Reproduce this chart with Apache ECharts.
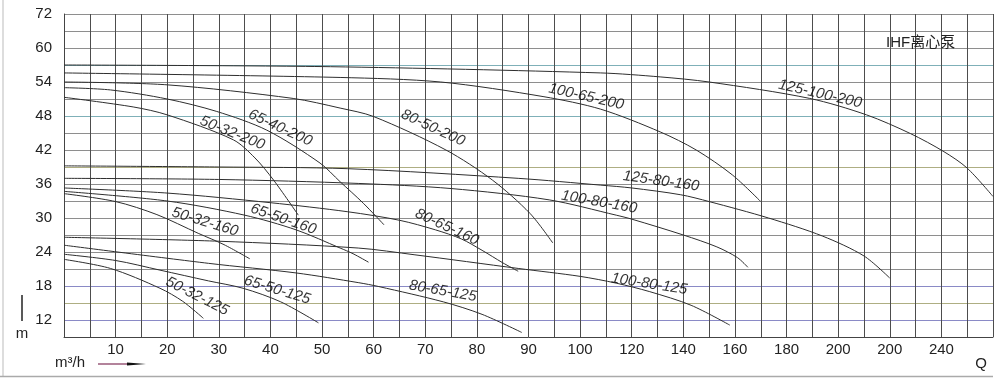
<!DOCTYPE html>
<html>
<head>
<meta charset="utf-8">
<script src="https://cdn.jsdelivr.net/npm/echarts@6/dist/echarts.min.js"></script>
<style>
html, body {margin:0; padding:0; background:#fff;}
#chart {width:1000px; height:378px;}
</style>
</head>
<body>
<div id="chart"></div>
<script>
// x 轴刻度文字（100 以后每格 20）
var xTickLabels = ['10','20','30','40','50','60','70','80','90','100','120','140','160','180','200','200','240'];
var yTickValues = [12, 18, 24, 30, 36, 42, 48, 54, 60, 66];
var yTickLabels = ['12','18','24','30','36','42','48','54','60','72'];

// 各泵型 Q-H 曲线 [Q(m3/h), H(m)]
var q50_32_125  = [[0,22.7],[9,21.1],[18.6,17.6],[23,15.3],[27,12.3]];
var q65_50_125  = [[0,23.6],[10,22.5],[18.6,20.8],[28,18.9],[34.7,17.6],[42,15.2],[49.3,11.5]];
var q80_65_125  = [[0,25.2],[28,22.0],[45,20.3],[57,18.6],[61,17.9],[73.5,15.2],[81,13.0],[88.7,9.8]];
var q100_80_125 = [[0,26.6],[30,25.9],[57,24.7],[68,23.5],[88,21.1],[100,19.7],[114,18.5],[127,17.0],[143,14.6],[158,11.1]];
var q50_32_160  = [[0,34.3],[10,32.9],[18,30.6],[26,27.3],[31,25.3],[36,22.8]];
var q65_50_160  = [[0,34.7],[20,33.0],[35,30.5],[45,27.9],[53.5,24.7],[56,23.7],[59,22.2]];
var q80_65_160  = [[0,35.3],[20,34.4],[40,32.7],[55,31.1],[65,29.6],[72,27.9],[77,26.3],[81,24.3],[85,22.1],[88,20.6]];
var q100_80_160 = [[0,37.0],[30,36.8],[57,36.1],[75,35.2],[94,33.2],[114,30.5],[120,29.8],[140,27.0],[153,24.9],[161,23.0],[165,21.3]];
var q125_80_160 = [[0,39.2],[30,39.0],[55,38.7],[88,37.0],[108,35.8],[120,35.3],[139,34.1],[150,32.9],[173,30.0],[194,26.8],[210,23.3],[220,19.4]];
var q50_32_200  = [[0,51.3],[13.4,49.6],[20,48.2],[32.8,43.8],[37,40.6],[40.6,36.7],[45.4,30.5]];
var q65_40_200  = [[0,53.0],[9,52.6],[20,51.0],[29.6,48.8],[39.3,45.5],[49.6,39.7],[53.5,36.4],[58,32.6],[62,28.8]];
var q80_50_200  = [[0,54.0],[20,53.5],[44.4,51.1],[53.5,49.4],[60,47.9],[74,42.0],[83,36.7],[90.3,30.8],[94.7,25.6]];
var q100_65_200 = [[0,55.6],[53.5,54.8],[73,54.0],[93,51.4],[108,49.2],[131,45.2],[145,42.0],[159,37.6],[170,32.9]];
var q125_100_200 = [[0,57.0],[51.6,56.7],[108,55.6],[131,54.9],[150,54.0],[189,51.1],[211,48.2],[228,44.9],[241,41.7],[250,38.8],[260,33.8]];

var curves = [q50_32_125, q65_50_125, q80_65_125, q100_80_125,
              q50_32_160, q65_50_160, q80_65_160, q100_80_160, q125_80_160,
              q50_32_200, q65_40_200, q80_50_200, q100_65_200, q125_100_200];

// 曲线标注 [文字, Q, H, 角度]
var curveLabels = [
    ['50-32-200', 32.6, 45.0, -22],
    ['65-40-200', 41.9, 45.9, -25],
    ['80-50-200', 71.5, 45.9, -25],
    ['100-65-200', 102.4, 51.4, -13],
    ['125-100-200', 193, 51.9, -13],
    ['125-80-160', 131.4, 36.5, -8],
    ['100-80-160', 107.4, 32.8, -10],
    ['80-65-160', 74.2, 28.4, -25],
    ['65-50-160', 42.5, 29.8, -19],
    ['50-32-160', 27.3, 29.3, -17],
    ['50-32-125', 25.8, 16.2, -27],
    ['65-50-125', 41.3, 17.3, -17],
    ['80-65-125', 73.4, 17.1, -10],
    ['100-80-125', 126.8, 18.35, -9]
];

// 横坐标 100 以后比例减半
function qToX(q) {
    return q <= 100 ? q : 100 + (q - 100) / 2;
}

var series = [];
for (var i = 0; i < curves.length; i++) {
    series.push({
        type: 'line', smooth: 0.3, symbol: 'none', silent: true,
        lineStyle: {color: '#2e2e2e', width: 1},
        data: curves[i].map(function(p){ return [qToX(p[0]), p[1]]; })
    });
}
series.push({
    type: 'scatter', symbolSize: 0, silent: true, z: 5,
    data: curveLabels.map(function(l){
        return {name: l[0], value: [qToX(l[1]), l[2]],
                label: {rotate: l[3]}};
    }),
    label: {show: true, position: 'inside', formatter: '{b}',
            fontFamily: 'Liberation Sans', fontStyle: 'italic', fontSize: 15, color: '#000'}
});

var hColors = [];
for (var k = 0; k < 20; k++) hColors.push('#8e8e8e');
hColors[1] = '#8a8ac6'; hColors[3] = '#8a8ac6';
hColors[13] = '#7fb0b8'; hColors[16] = '#7fb0b8';
hColors[10] = '#aeae82'; hColors[2] = '#aeae82';

var option = {
    animation: false,
    grid: {left: 64, right: 7, top: 14, bottom: 41},
    title: {text: 'IHF离心泵', left: 881, top: 30,
            textStyle: {fontSize: 15, fontWeight: 'normal', color: '#222',
                        fontFamily: 'Liberation Sans, Noto Sans CJK SC'}},
    xAxis: {
        type: 'value', min: 0, max: 180, interval: 5,
        axisLine: {show: true, lineStyle: {color: '#444'}},
        axisTick: {show: false},
        splitLine: {show: true, lineStyle: {color: '#4d4d4d', width: 1}},
        axisLabel: {margin: 5, fontSize: 15, color: '#222', fontFamily: 'Liberation Sans',
                    formatter: function(v){
                        if (v % 10 != 0 || v < 10 || v > 170) return '';
                        return xTickLabels[v / 10 - 1];
                    }}
    },
    yAxis: {
        type: 'value', min: 9, max: 66, interval: 3,
        axisLine: {show: true, lineStyle: {color: '#444'}},
        axisTick: {show: false},
        splitLine: {show: true, lineStyle: {color: hColors, width: 1}},
        axisLabel: {margin: 12, fontSize: 15, color: '#222', fontFamily: 'Liberation Sans',
                    formatter: function(v){
                        var idx = yTickValues.indexOf(v);
                        return idx < 0 ? '' : yTickLabels[idx];
                    }}
    },
    graphic: [
        {type: 'line', shape: {x1: 3, y1: 0, x2: 3, y2: 377}, style: {stroke: '#bbb', lineWidth: 1}},
        {type: 'line', shape: {x1: 0, y1: 376.5, x2: 993, y2: 376.5}, style: {stroke: '#aaa', lineWidth: 1.5}},
        {type: 'line', shape: {x1: 22, y1: 295, x2: 22, y2: 321}, style: {stroke: '#222', lineWidth: 1.5}},
        {type: 'text', x: 22, y: 334, style: {text: 'm', fontSize: 15, fill: '#222', fontFamily: 'Liberation Sans',
                                              align: 'center', verticalAlign: 'middle'}},
        {type: 'text', x: 55, y: 363, style: {text: 'm³/h', fontSize: 15, fill: '#222', fontFamily: 'Liberation Sans',
                                              align: 'left', verticalAlign: 'middle'}},
        {type: 'line', shape: {x1: 98, y1: 364, x2: 130, y2: 364}, style: {stroke: '#9a5a7a', lineWidth: 1.5}},
        {type: 'polygon', shape: {points: [[127, 362.5], [146, 364], [127, 365.5]]}, style: {fill: '#111'}},
        {type: 'text', x: 981, y: 364, style: {text: 'Q', fontSize: 15, fill: '#222', fontFamily: 'Liberation Sans',
                                               align: 'center', verticalAlign: 'middle'}}
    ],
    series: series
};

var chart = echarts.init(document.getElementById('chart'));
chart.setOption(option);
</script>
</body>
</html>
